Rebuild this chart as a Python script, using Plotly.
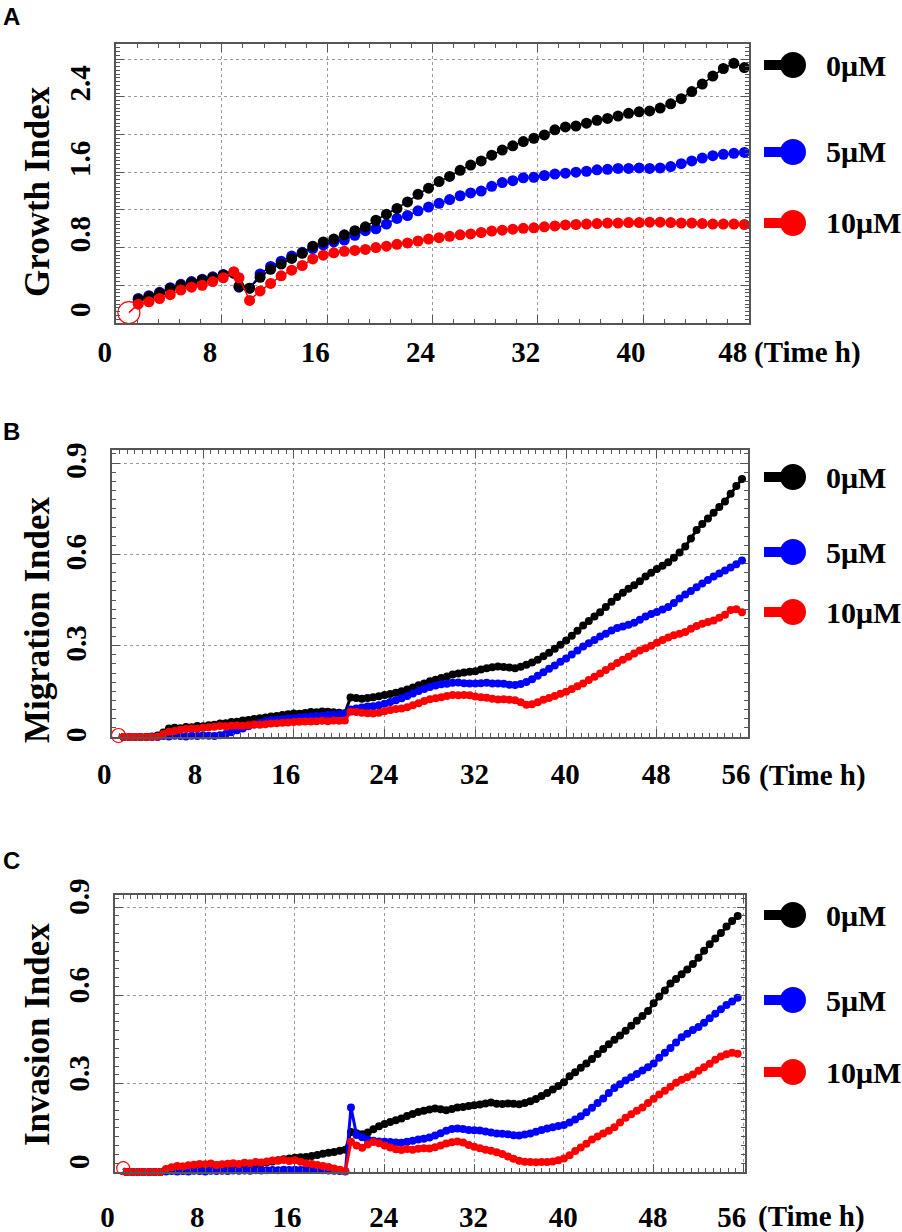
import plotly.graph_objects as go

W, H = 902, 1232

# ---------------- Panel A : growth (RTCA cell index) ----------------
time_a = [1.64, 2.45, 3.26, 4.07, 4.88, 5.69, 6.5, 7.3, 8.1, 8.9, 9.3, 10.1, 10.9, 11.7, 12.5,
          13.3, 14.1, 14.9, 15.7, 16.5, 17.3, 18.1, 18.9, 19.7, 20.5, 21.3, 22.1, 22.9, 23.7,
          24.5, 25.3, 26.1, 26.9, 27.7, 28.5, 29.3, 30.1, 30.9, 31.7, 32.5, 33.3, 34.1, 34.9,
          35.7, 36.5, 37.3, 38.1, 38.9, 39.7, 40.5, 41.3, 42.1, 42.9, 43.7, 44.5, 45.3, 46.1,
          46.9, 47.7]
growth_0uM = [0.25, 0.28, 0.315, 0.365, 0.40, 0.43, 0.455, 0.48, 0.51, 0.53, 0.39, 0.37, 0.485,
              0.57, 0.625, 0.685, 0.74, 0.815, 0.86, 0.89, 0.935, 0.98, 1.02, 1.09, 1.155, 1.215,
              1.285, 1.365, 1.43, 1.50, 1.555, 1.62, 1.675, 1.72, 1.78, 1.835, 1.88, 1.925, 1.96,
              1.995, 2.05, 2.08, 2.09, 2.12, 2.15, 2.17, 2.195, 2.225, 2.24, 2.25, 2.28, 2.325,
              2.38, 2.455, 2.535, 2.62, 2.70, 2.755, 2.71]
growth_5uM = [0.26, 0.29, 0.325, 0.375, 0.41, 0.44, 0.465, 0.49, 0.515, 0.53, 0.38, 0.37, 0.52,
              0.60, 0.655, 0.71, 0.75, 0.79, 0.83, 0.86, 0.88, 0.93, 0.98, 1.00, 1.05, 1.11,
              1.14, 1.19, 1.23, 1.27, 1.31, 1.35, 1.38, 1.40, 1.45, 1.49, 1.51, 1.54, 1.545,
              1.565, 1.58, 1.59, 1.60, 1.61, 1.625, 1.63, 1.64, 1.64, 1.645, 1.64, 1.645, 1.66,
              1.69, 1.72, 1.75, 1.775, 1.79, 1.80, 1.81]
growth_10uM = [0.20, 0.225, 0.26, 0.30, 0.35, 0.38, 0.40, 0.44, 0.48, 0.545, 0.48, 0.24, 0.34,
               0.42, 0.50, 0.56, 0.61, 0.68, 0.72, 0.745, 0.76, 0.77, 0.78, 0.80, 0.815, 0.835,
               0.85, 0.87, 0.89, 0.905, 0.92, 0.935, 0.945, 0.96, 0.975, 0.985, 0.995, 1.005,
               1.01, 1.02, 1.03, 1.04, 1.045, 1.05, 1.055, 1.06, 1.06, 1.065, 1.065, 1.07, 1.07,
               1.065, 1.06, 1.06, 1.055, 1.05, 1.05, 1.05, 1.045]
# baseline point and the open circle before the first sweep
start_a = dict(base=(-0.1, 0.0), ring=(0.93, 0.11))

# ---------------- Panels B and C : migration / invasion ----------------
time_bc = [1.0, 1.5, 2.0, 2.5, 3.0, 3.5, 4.0, 4.5, 5.0, 5.5,
           6.0, 6.5, 7.0, 7.5, 8.0, 8.5, 9.0, 9.5, 10.0, 10.5,
           11.0, 11.5, 12.0, 12.5, 13.0, 13.5, 14.0, 14.5, 15.0, 15.5,
           16.0, 16.5, 17.0, 17.5, 18.0, 18.5, 19.0, 19.5, 20.0, 20.5,
           21.0, 21.5, 22.0, 22.5, 23.0, 23.5, 24.0, 24.5, 25.0, 25.5,
           26.0, 26.5, 27.0, 27.5, 28.0, 28.5, 29.0, 29.5, 30.0, 30.5,
           31.0, 31.5, 32.0, 32.5, 33.0, 33.5, 34.0, 34.5, 35.0, 35.5,
           36.0, 36.5, 37.0, 37.5, 38.0, 38.5, 39.0, 39.5, 40.0, 40.5,
           41.0, 41.5, 42.0, 42.5, 43.0, 43.5, 44.0, 44.5, 45.0, 45.5,
           46.0, 46.5, 47.0, 47.5, 48.0, 48.5, 49.0, 49.5, 50.0, 50.5,
           51.0, 51.5, 52.0, 52.5, 53.0, 53.5, 54.0, 54.5, 55.0, 55.5]

migration_0uM = [0.0, 0.0, 0.0, 0.0, 0.0, 0.002, 0.005, 0.015, 0.028, 0.030,
                 0.029, 0.033, 0.032, 0.036, 0.035, 0.039, 0.040, 0.044, 0.045, 0.049,
                 0.050, 0.054, 0.056, 0.059, 0.062, 0.064, 0.067, 0.069, 0.072, 0.075,
                 0.077, 0.076, 0.079, 0.082, 0.081, 0.084, 0.083, 0.081, 0.080, 0.078,
                 0.130, 0.128, 0.126, 0.128, 0.131, 0.134, 0.138, 0.141, 0.145, 0.150,
                 0.156, 0.163, 0.170, 0.176, 0.183, 0.188, 0.194, 0.199, 0.205, 0.209,
                 0.212, 0.214, 0.216, 0.222, 0.226, 0.229, 0.232, 0.230, 0.228, 0.226,
                 0.231, 0.237, 0.245, 0.254, 0.265, 0.277, 0.290, 0.303, 0.317, 0.333,
                 0.349, 0.366, 0.381, 0.396, 0.410, 0.427, 0.444, 0.460, 0.474, 0.487,
                 0.499, 0.512, 0.527, 0.540, 0.552, 0.563, 0.574, 0.589, 0.606, 0.626,
                 0.652, 0.680, 0.700, 0.718, 0.737, 0.756, 0.774, 0.799, 0.825, 0.848]
migration_5uM = [0.0, 0.0, 0.0, 0.0, 0.0, 0.0, 0.0, 0.003, 0.002, 0.004,
                 0.003, 0.002, 0.004, 0.003, 0.005, 0.004, 0.003, 0.006, 0.010, 0.016,
                 0.022, 0.028, 0.035, 0.041, 0.047, 0.052, 0.055, 0.057, 0.059, 0.061,
                 0.062, 0.064, 0.066, 0.067, 0.069, 0.070, 0.072, 0.073, 0.075, 0.077,
                 0.090, 0.094, 0.097, 0.100, 0.101, 0.104, 0.109, 0.115, 0.121, 0.127,
                 0.135, 0.143, 0.151, 0.158, 0.164, 0.169, 0.173, 0.175, 0.178, 0.179,
                 0.177, 0.176, 0.176, 0.177, 0.178, 0.176, 0.176, 0.175, 0.172, 0.171,
                 0.174, 0.181, 0.190, 0.201, 0.213, 0.224, 0.235, 0.247, 0.258, 0.271,
                 0.284, 0.297, 0.308, 0.319, 0.330, 0.339, 0.350, 0.358, 0.363, 0.369,
                 0.375, 0.385, 0.396, 0.404, 0.411, 0.419, 0.427, 0.440, 0.455, 0.468,
                 0.480, 0.492, 0.504, 0.516, 0.527, 0.537, 0.547, 0.557, 0.568, 0.580]
migration_10uM = [0.0, 0.0, 0.0, 0.0, 0.0, 0.0, 0.002, 0.010, 0.017, 0.020,
                  0.024, 0.026, 0.028, 0.027, 0.030, 0.032, 0.034, 0.036, 0.035, 0.037,
                  0.038, 0.037, 0.039, 0.041, 0.040, 0.042, 0.044, 0.045, 0.047, 0.048,
                  0.049, 0.050, 0.051, 0.051, 0.052, 0.053, 0.052, 0.054, 0.053, 0.054,
                  0.083, 0.082, 0.080, 0.078, 0.077, 0.080, 0.085, 0.089, 0.092, 0.094,
                  0.098, 0.104, 0.111, 0.118, 0.124, 0.127, 0.131, 0.135, 0.138, 0.137,
                  0.138, 0.137, 0.133, 0.131, 0.129, 0.126, 0.123, 0.124, 0.122, 0.121,
                  0.114, 0.106, 0.108, 0.114, 0.122, 0.128, 0.135, 0.142, 0.149, 0.158,
                  0.167, 0.176, 0.187, 0.198, 0.209, 0.220, 0.232, 0.243, 0.254, 0.264,
                  0.274, 0.284, 0.292, 0.300, 0.310, 0.319, 0.327, 0.334, 0.339, 0.345,
                  0.356, 0.365, 0.372, 0.378, 0.383, 0.392, 0.402, 0.417, 0.420, 0.410]
start_b = dict(base=(-0.1, 0.0), ring=(0.55, 0.005))

invasion_0uM = [0.0, 0.0, 0.0, 0.0, 0.0, 0.0, 0.0, 0.008, 0.014, 0.016,
                0.018, 0.019, 0.021, 0.020, 0.022, 0.021, 0.023, 0.022, 0.024, 0.025,
                0.024, 0.026, 0.027, 0.029, 0.030, 0.033, 0.036, 0.040, 0.043, 0.046,
                0.048, 0.050, 0.051, 0.054, 0.058, 0.062, 0.065, 0.068, 0.072, 0.076,
                0.136, 0.132, 0.128, 0.134, 0.145, 0.155, 0.163, 0.170, 0.176, 0.182,
                0.190, 0.197, 0.204, 0.208, 0.212, 0.216, 0.213, 0.210, 0.214, 0.219,
                0.221, 0.224, 0.227, 0.229, 0.233, 0.236, 0.232, 0.231, 0.233, 0.232,
                0.230, 0.234, 0.240, 0.248, 0.258, 0.268, 0.280, 0.292, 0.305, 0.325,
                0.339, 0.354, 0.369, 0.384, 0.401, 0.418, 0.434, 0.449, 0.464, 0.480,
                0.497, 0.514, 0.530, 0.547, 0.573, 0.596, 0.617, 0.640, 0.656, 0.672,
                0.688, 0.707, 0.728, 0.752, 0.774, 0.793, 0.812, 0.834, 0.853, 0.870]
invasion_5uM = [0.0, 0.0, 0.0, 0.0, 0.0, 0.0, 0.0, 0.002, 0.003, 0.002,
                0.003, 0.002, 0.004, 0.003, 0.002, 0.004, 0.003, 0.004, 0.003, 0.005,
                0.004, 0.005, 0.004, 0.006, 0.005, 0.006, 0.007, 0.006, 0.008, 0.007,
                0.008, 0.007, 0.009, 0.008, 0.007, 0.006, 0.005, 0.004, 0.003, 0.002,
                0.219, 0.126, 0.118, 0.110, 0.106, 0.104, 0.103, 0.102, 0.100, 0.099,
                0.103, 0.106, 0.110, 0.113, 0.117, 0.124, 0.132, 0.140, 0.146, 0.148,
                0.146, 0.143, 0.142, 0.141, 0.138, 0.134, 0.131, 0.130, 0.128, 0.125,
                0.124, 0.127, 0.131, 0.137, 0.143, 0.148, 0.152, 0.156, 0.160, 0.168,
                0.178, 0.189, 0.203, 0.218, 0.234, 0.250, 0.268, 0.285, 0.298, 0.311,
                0.322, 0.333, 0.345, 0.356, 0.369, 0.388, 0.405, 0.421, 0.440, 0.458,
                0.470, 0.482, 0.493, 0.507, 0.522, 0.538, 0.553, 0.567, 0.579, 0.592]
invasion_10uM = [0.0, 0.0, 0.0, 0.0, 0.0, 0.0, 0.0, 0.010, 0.016, 0.020,
                 0.019, 0.023, 0.025, 0.027, 0.026, 0.029, 0.024, 0.026, 0.028, 0.030,
                 0.027, 0.031, 0.030, 0.034, 0.032, 0.036, 0.039, 0.038, 0.041, 0.037,
                 0.040, 0.035, 0.030, 0.027, 0.024, 0.020, 0.017, 0.012, 0.008, 0.003,
                 0.103, 0.090, 0.082, 0.093, 0.102, 0.098, 0.090, 0.083, 0.077, 0.075,
                 0.078, 0.076, 0.079, 0.081, 0.080, 0.084, 0.090, 0.097, 0.101, 0.104,
                 0.100, 0.092, 0.086, 0.081, 0.076, 0.072, 0.067, 0.061, 0.053, 0.045,
                 0.038, 0.035, 0.034, 0.033, 0.034, 0.034, 0.036, 0.040, 0.046, 0.057,
                 0.071, 0.083, 0.096, 0.110, 0.121, 0.131, 0.140, 0.152, 0.168, 0.184,
                 0.196, 0.208, 0.219, 0.234, 0.249, 0.263, 0.276, 0.290, 0.303, 0.313,
                 0.322, 0.331, 0.344, 0.356, 0.368, 0.381, 0.392, 0.400, 0.405, 0.402]
start_c = dict(base=(-0.1, 0.0), ring=(0.68, 0.013))

doses = ["0μM", "5μM", "10μM"]
colors = {"0μM": "#000000", "5μM": "#0000ff", "10μM": "#ff0000"}

x_ticks_a = [0, 8, 16, 24, 32, 40, 48]
x_ticks_bc = [0, 8, 16, 24, 32, 40, 48, 56]

SERIF = "Liberation Serif"
SANS = "Liberation Sans"
NB = "\u00a0"


def px_x(x):
    return x / W


def px_y(y):
    return 1 - y / H


fig = go.Figure()

# (lead, trail) non-breaking spaces nudge single tick labels like in the source figure
panels = [
    dict(name="A", time=time_a, series=[growth_0uM, growth_5uM, growth_10uM], start=start_a,
         order=[1, 0, 2], msize=11, lwidth=1.5, ring=22,
         box=(116, 749, 44, 323), xrange=[-0.05, 48.05], yrange=[0, 2.96],
         xticks=x_ticks_a, xpad={48: (0, 1)}, xshift=-12, xstand=2,
         xminor=1.6, ygrid=0.4, ylabels=[0, 0.8, 1.6, 2.4], ymax=2.8, yminor=0.04, yshift=-9,
         title="Growth Index", title_y=192, letter_y=16, unit_x=752, unit_y=352,
         legend_y=[65, 152, 223]),
    dict(name="B", time=time_bc, series=[migration_0uM, migration_5uM, migration_10uM],
         start=start_b, order=[0, 1, 2], msize=8, lwidth=3, ring=14,
         box=(112, 748, 450, 737), xrange=[-0.02, 56.03], yrange=[0, 0.943],
         xticks=x_ticks_bc, xpad={24: (2, 0), 32: (2, 0), 40: (2, 0), 48: (2, 0), 56: (0, 1)},
         xshift=-8, xstand=10,
         xminor=8 / 12, ygrid=0.3, ylabels=[0, 0.3, 0.6, 0.9], ymax=0.9, yminor=0.03, yshift=2,
         title="Migration Index", title_y=620, letter_y=431, unit_x=757, unit_y=775,
         legend_y=[477, 552, 612]),
    dict(name="C", time=time_bc, series=[invasion_0uM, invasion_5uM, invasion_10uM],
         start=start_c, order=[0, 1, 2], msize=8, lwidth=3, ring=13,
         box=(115, 745, 895, 1172), xrange=[-0.05, 56.15], yrange=[0, 0.941],
         xticks=x_ticks_bc, xpad={24: (2, 0), 32: (2, 0), 40: (2, 0), 48: (2, 0), 56: (0, 1)},
         xshift=-8, xstand=18,
         xminor=8 / 12, ygrid=0.3, ylabels=[0, 0.3, 0.6, 0.9], ymax=0.9, yminor=0.03, yshift=-6,
         title="Invasion Index", title_y=1035, letter_y=860, unit_x=756, unit_y=1216,
         legend_y=[915, 1000, 1072]),
]

shapes = []
annotations = []

for i, p in enumerate(panels):
    sfx = "" if i == 0 else str(i + 1)
    xa, ya = "x" + sfx, "y" + sfx

    for k in p["order"]:
        dose = doses[k]
        xs = list(p["time"])
        ys = list(p["series"][k])
        sizes = [p["msize"]] * len(xs)
        if dose == "10μM":
            # line starts at the open circle
            xs = [p["start"]["ring"][0]] + xs
            ys = [p["start"]["ring"][1]] + ys
            sizes = [0] + sizes
        fig.add_trace(go.Scatter(
            x=xs, y=ys, xaxis=xa, yaxis=ya, mode="lines+markers", opacity=1,
            line=dict(color=colors[dose], width=p["lwidth"]),
            marker=dict(color=colors[dose], size=sizes, opacity=1, line=dict(width=0)),
            cliponaxis=False, showlegend=False))

    fig.add_trace(go.Scatter(
        x=[p["start"]["base"][0]], y=[p["start"]["base"][1]], xaxis=xa, yaxis=ya,
        mode="markers", marker=dict(color="#ff0000", size=p["msize"] + 1, opacity=1),
        cliponaxis=False, showlegend=False))
    fig.add_trace(go.Scatter(
        x=[p["start"]["ring"][0]], y=[p["start"]["ring"][1]], xaxis=xa, yaxis=ya,
        mode="markers", marker=dict(symbol="circle-open", color="#ff0000", size=p["ring"],
                                    line=dict(width=1.2)),
        cliponaxis=False, showlegend=False))

    x0, x1, y0, y1 = p["box"]
    common = dict(showline=True, linecolor="#555555", linewidth=1.5, mirror="ticks",
                  ticks="inside", ticklen=8, tickwidth=1.2, tickcolor="#555555",
                  showgrid=True, gridcolor="#9a9a9a", griddash="dot", gridwidth=1,
                  zeroline=False, automargin=False,
                  tickfont=dict(family=SERIF, size=29, color="black", weight="bold"))

    xtext = []
    for t in p["xticks"]:
        lead, trail = p["xpad"].get(t, (0, 0))
        xtext.append(NB * lead + str(t) + NB * trail)

    yvals, ytext = [], []
    v = 0.0
    while v <= p["ymax"] + 1e-9:
        yvals.append(round(v, 3))
        hit = any(abs(v - lab) < 1e-6 for lab in p["ylabels"])
        ytext.append(("%g" % v) if hit else "")
        v += p["ygrid"]

    fig.update_layout(**{
        "xaxis" + sfx: dict(common, domain=[px_x(x0), px_x(x1)], anchor=ya,
                            range=p["xrange"], tickmode="array", tickvals=p["xticks"],
                            ticktext=xtext, ticklabelshift=p["xshift"],
                            ticklabelstandoff=p["xstand"],
                            minor=dict(tickmode="linear", tick0=0, dtick=p["xminor"],
                                       ticks="inside", ticklen=4, tickcolor="#555555",
                                       showgrid=False)),
        "yaxis" + sfx: dict(common, domain=[px_y(y1), px_y(y0)], anchor=xa,
                            range=p["yrange"], tickmode="array", tickvals=yvals,
                            ticktext=ytext, tickangle=-90, ticklabelshift=p["yshift"],
                            ticklabelstandoff=13,
                            minor=dict(tickmode="linear", tick0=0, dtick=p["yminor"],
                                       ticks="inside", ticklen=4, tickcolor="#555555",
                                       showgrid=False)),
    })

    # panel letter, axis title, time unit
    annotations.append(dict(text="<b>%s</b>" % p["name"], x=px_x(1), y=px_y(p["letter_y"]),
                            xref="paper", yref="paper", xanchor="left", yanchor="middle",
                            showarrow=False, font=dict(family=SANS, size=24, color="black")))
    annotations.append(dict(text="<b>%s</b>" % p["title"], x=px_x(37), y=px_y(p["title_y"]),
                            xref="paper", yref="paper", xanchor="center", yanchor="middle",
                            textangle=-90, showarrow=False,
                            font=dict(family=SERIF, size=35, color="black")))
    annotations.append(dict(text="<b>(Time h)</b>", x=px_x(p["unit_x"]), y=px_y(p["unit_y"]),
                            xref="paper", yref="paper", xanchor="left", yanchor="middle",
                            showarrow=False, font=dict(family=SERIF, size=29, color="black")))

    # legend glyphs: bar + dot, then the dose text
    for dose, ly in zip(doses, p["legend_y"]):
        c = colors[dose]
        shapes.append(dict(type="line", xref="paper", yref="paper",
                           x0=px_x(764), x1=px_x(792), y0=px_y(ly), y1=px_y(ly),
                           line=dict(color=c, width=10)))
        shapes.append(dict(type="circle", xref="paper", yref="paper",
                           x0=px_x(780), x1=px_x(806), y0=px_y(ly + 13), y1=px_y(ly - 13),
                           fillcolor=c, line=dict(color=c, width=0)))
        annotations.append(dict(text="<b>%s</b>" % dose, x=px_x(824), y=px_y(ly),
                                xref="paper", yref="paper", xanchor="left", yanchor="middle",
                                showarrow=False, font=dict(family=SERIF, size=30, color="black")))

fig.update_layout(
    template="none",
    width=W, height=H,
    margin=dict(l=0, r=0, t=0, b=0),
    paper_bgcolor="white", plot_bgcolor="white",
    showlegend=False,
    shapes=shapes, annotations=annotations,
)

# page body has a default 8px margin; drop it so the figure sits at the window corner
fig.write_html("out.html", config={"displayModeBar": False},
               post_script="document.body.style.margin='0px';")
